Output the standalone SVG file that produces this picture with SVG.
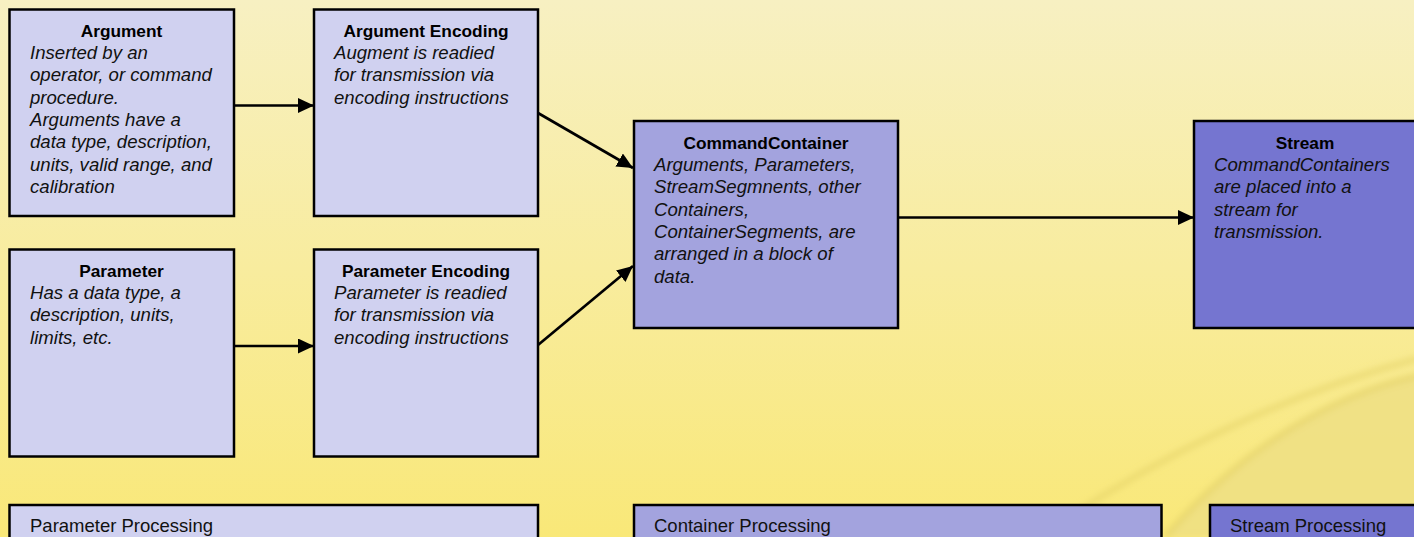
<svg xmlns="http://www.w3.org/2000/svg" width="1414" height="537" viewBox="0 0 1414 537">
  <defs>
    <linearGradient id="bg" x1="0" y1="0" x2="0" y2="1">
      <stop offset="0" stop-color="#f7f0c2"/>
      <stop offset="0.5" stop-color="#f8ec9e"/>
      <stop offset="1" stop-color="#f9e878"/>
    </linearGradient>
    <filter id="soft" x="-20%" y="-20%" width="140%" height="140%">
      <feGaussianBlur stdDeviation="3"/>
    </filter>
    <marker id="head" markerUnits="userSpaceOnUse" markerWidth="17" markerHeight="16" refX="16" refY="7.5" orient="auto">
      <path d="M0,0 L16,7.5 L0,15 z" fill="#000"/>
    </marker>
    <style>
      .box { stroke: #000; stroke-width: 2.5; }
      .light { fill: #d0d1f0; }
      .mid { fill: #a3a3de; }
      .dark { fill: #7575d0; }
      .title { font-family: "Liberation Sans", Arial, sans-serif; font-size: 17.3px; font-weight: bold; fill: #000; text-anchor: middle; }
      .body { font-family: "Liberation Sans", Arial, sans-serif; font-size: 18.6px; font-style: italic; fill: #111; }
      .label { font-family: "Liberation Sans", Arial, sans-serif; font-size: 18.5px; fill: #111; }
      .link { stroke: #000; stroke-width: 2.7; fill: none; marker-end: url(#head); }
    </style>
  </defs>

  <!-- backdrop with a soft sweep in the lower right -->
  <rect x="0" y="0" width="1414" height="537" fill="url(#bg)"/>
  <g id="swoosh" filter="url(#soft)">
    <path d="M1165,537 C1240,450 1330,395 1420,375 L1420,537 z" fill="#eede84" opacity="0.8"/>
    <path d="M1040,537 C1150,460 1280,395 1420,358" stroke="#e4d268" stroke-width="6" fill="none" opacity="0.6"/>
    <path d="M1165,537 C1240,450 1330,395 1420,375" stroke="#e2d066" stroke-width="6" fill="none" opacity="0.6"/>
  </g>

  <!-- connectors -->
  <g id="connectors">
    <line class="link" x1="234" y1="105.5" x2="314" y2="105.5"/>
    <line class="link" x1="234" y1="346" x2="314" y2="346"/>
    <line class="link" x1="538" y1="113" x2="633" y2="168"/>
    <line class="link" x1="538" y1="345" x2="633" y2="266"/>
    <line class="link" x1="898" y1="217.5" x2="1194" y2="217.5"/>
  </g>

  <g id="argument">
    <rect class="box light" x="9.5" y="9.5" width="224.5" height="206.5"/>
    <text class="title" x="121.5" y="37">Argument</text>
    <text class="body">
      <tspan x="30" y="59">Inserted by an</tspan>
      <tspan x="30" y="81.3">operator, or command</tspan>
      <tspan x="30" y="103.6">procedure.</tspan>
      <tspan x="30" y="125.9">Arguments have a</tspan>
      <tspan x="30" y="148.2">data type, description,</tspan>
      <tspan x="30" y="170.5">units, valid range, and</tspan>
      <tspan x="30" y="192.8">calibration</tspan>
    </text>
  </g>

  <g id="argument-encoding">
    <rect class="box light" x="314" y="9.5" width="224" height="206.5"/>
    <text class="title" x="426" y="37">Argument Encoding</text>
    <text class="body">
      <tspan x="334" y="59">Augment is readied</tspan>
      <tspan x="334" y="81.3">for transmission via</tspan>
      <tspan x="334" y="103.6">encoding instructions</tspan>
    </text>
  </g>

  <g id="parameter">
    <rect class="box light" x="9.5" y="249.5" width="224.5" height="207"/>
    <text class="title" x="121.5" y="277">Parameter</text>
    <text class="body">
      <tspan x="30" y="299">Has a data type, a</tspan>
      <tspan x="30" y="321.3">description, units,</tspan>
      <tspan x="30" y="343.6">limits, etc.</tspan>
    </text>
  </g>

  <g id="parameter-encoding">
    <rect class="box light" x="314" y="249.5" width="224" height="207"/>
    <text class="title" x="426" y="277">Parameter Encoding</text>
    <text class="body">
      <tspan x="334" y="299">Parameter is readied</tspan>
      <tspan x="334" y="321.3">for transmission via</tspan>
      <tspan x="334" y="343.6">encoding instructions</tspan>
    </text>
  </g>

  <g id="command-container">
    <rect class="box mid" x="634" y="121" width="264" height="207"/>
    <text class="title" x="766" y="149">CommandContainer</text>
    <text class="body">
      <tspan x="654" y="171">Arguments, Parameters,</tspan>
      <tspan x="654" y="193.3">StreamSegmnents, other</tspan>
      <tspan x="654" y="215.6">Containers,</tspan>
      <tspan x="654" y="237.9">ContainerSegments, are</tspan>
      <tspan x="654" y="260.2">arranged in a block of</tspan>
      <tspan x="654" y="282.5">data.</tspan>
    </text>
  </g>

  <g id="stream">
    <rect class="box dark" x="1194" y="121" width="224" height="207"/>
    <text class="title" x="1305" y="149">Stream</text>
    <text class="body">
      <tspan x="1214" y="171">CommandContainers</tspan>
      <tspan x="1214" y="193.3">are placed into a</tspan>
      <tspan x="1214" y="215.6">stream for</tspan>
      <tspan x="1214" y="237.9">transmission.</tspan>
    </text>
  </g>

  <g id="parameter-processing">
    <rect class="box light" x="9.5" y="505" width="528.5" height="40"/>
    <text class="label" x="30" y="532">Parameter Processing</text>
  </g>

  <g id="container-processing">
    <rect class="box mid" x="634" y="505" width="527.5" height="40"/>
    <text class="label" x="654" y="532">Container Processing</text>
  </g>

  <g id="stream-processing">
    <rect class="box dark" x="1210" y="505" width="210" height="40"/>
    <text class="label" x="1230" y="532">Stream Processing</text>
  </g>
</svg>
